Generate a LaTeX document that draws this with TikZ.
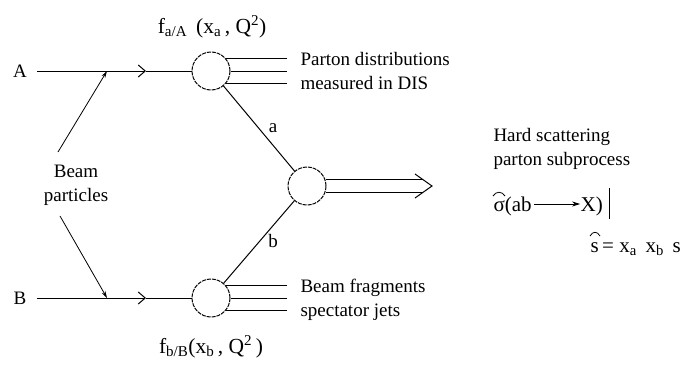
\documentclass[tikz,border=0pt]{standalone}
\usepackage{fontspec}
\setmainfont{Liberation Serif}
\usetikzlibrary{arrows.meta,calc}
\begin{document}
\begin{tikzpicture}[x=1pt,y=-1pt,line width=1pt,
  blob/.style={circle,draw,dash pattern=on 4pt off 1pt,minimum size=38pt,inner sep=0pt},
  txt/.style={font=\fontsize{19}{24}\selectfont,inner sep=0pt,align=left},
  flbl/.style={font=\fontsize{21.5}{24}\selectfont,inner sep=0pt},
  mth/.style={font=\fontsize{21}{24}\selectfont,inner sep=0pt},
  chev/.style={-{Straight Barb[length=7pt,width=12pt]}},
  pointer/.style={-{Stealth[length=7pt,width=4pt]},line width=0.8pt},
  hat/.style={line width=0.8pt}]
\useasboundingbox (0,0) rectangle (693,364);
% beams
\node[txt] (A) at (20,71) {A};
\node[txt] (B) at (20,298) {B};
\node[blob] (cA) at (211,71) {};
\node[blob] (cB) at (211,298) {};
\node[blob] (cH) at (307,186) {};
\coordinate (chA) at (146,71);
\coordinate (chB) at (146,298);
\draw[chev,shorten <=10pt] (A.east) -- (chA);
\draw (chA) -- (cA.west);
\draw[chev,shorten <=10pt] (B.east) -- (chB);
\draw (chB) -- (cB.west);
% beam particles
\node[txt,align=center] (beam) at (76,185) {Beam\\particles};
\coordinate (tA) at (107,71);
\coordinate (tB) at (107,298);
\coordinate (sA) at (58,152);
\coordinate (sB) at (60,216);
\draw[pointer] (sA) -- (tA);
\draw[pointer] (sB) -- (tB);
% remnant lines
\coordinate (rend) at (287,0);
\foreach \ang in {39,0,-39} {
  \draw (cA.\ang) -- (cA.\ang -| rend);
  \draw (cB.\ang) -- (cB.\ang -| rend);
}
% partons
\draw (cA) -- (cH);
\draw (cB) -- (cH);
\node[txt] (la) at (273,128) {a};
\node[txt] (lb) at (273,241) {b};
% double arrow
\coordinate (dx) at (423,0);
\coordinate (dtip) at (432,186);
\coordinate (dU) at (415,174);
\coordinate (dL) at (415,198);
\draw (cH.18) -- (cH.18 -| dx);
\draw (cH.-18) -- (cH.-18 -| dx);
\draw (dU) -- (dtip) -- (dL);
% labels
\node[flbl] (fA) at (212,27) {f\textsubscript{a/A}\, (x\textsubscript{a}\,, Q\textsuperscript{2})};
\node[flbl] (fB) at (211,347) {f\textsubscript{b/B}(x\textsubscript{b}\,, Q\textsuperscript{2}\,)};
\node[txt,anchor=west] (pd) at (300,71) {Parton distributions\\measured in DIS};
\node[txt,anchor=west] (bf) at (300,300) {Beam fragments\\spectator jets};
\node[txt,anchor=west] (hs) at (493,149) {Hard scattering\\parton subprocess};
\node[mth,anchor=base west] (sig) at (493,211) {σ(ab};
\node[mth,anchor=base west] (xx) at ($(sig.base east)+(48,0)$) {X)};
\coordinate (arS) at ($(sig.base east)+(2,-7)$);
\coordinate (arE) at ($(xx.base west)+(0,-7)$);
\draw[-{Stealth[length=8pt,width=5pt]},line width=0.9pt] (arS) -- (arE);
\coordinate (barT) at ($(xx.base east)+(6,-23)$);
\coordinate (barB) at ($(xx.base east)+(6,8)$);
\draw (barT) -- (barB);
\node[mth,anchor=base west] (shat) at (590,252) {s\,= x\textsubscript{a}\, x\textsubscript{b}\, s};
\coordinate (h1) at ($(sig.base west)+(0,-15)$);
\coordinate (h2) at ($(sig.base west)+(12,-15)$);
\draw[hat] (h1) .. controls +(3,-5) and +(-3,-5) .. (h2);
\coordinate (h3) at ($(shat.base west)+(0,-16)$);
\coordinate (h4) at ($(shat.base west)+(10,-16)$);
\draw[hat] (h3) .. controls +(3,-5) and +(-3,-5) .. (h4);
\end{tikzpicture}
\end{document}
